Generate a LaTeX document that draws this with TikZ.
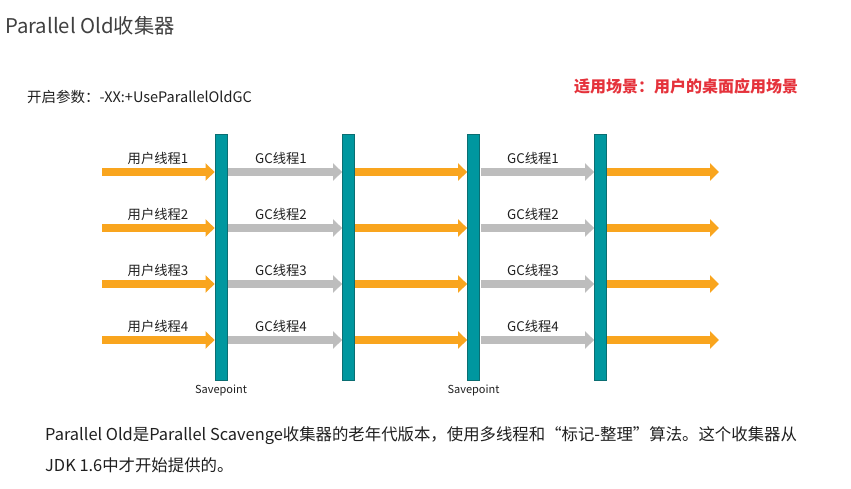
\documentclass[tikz,border=0pt]{standalone}
\usepackage{fontspec}
\setmainfont{Noto Sans CJK SC}
\usetikzlibrary{arrows.meta}
\definecolor{orangeA}{HTML}{F9A51E}
\definecolor{grayA}{HTML}{BDBDBD}
\definecolor{tealA}{HTML}{00979F}
\definecolor{tealD}{HTML}{0B6E72}
\definecolor{redA}{HTML}{E5323B}
\definecolor{titleg}{HTML}{404040}
\definecolor{txt}{HTML}{202020}
\begin{document}
\begin{tikzpicture}[x=1pt,y=-1pt,
  bar/.style={draw=tealD, line width=0.8pt, fill=tealA, minimum width=12pt, minimum height=246pt, inner sep=0pt},
  oarr/.style={draw=orangeA, line width=8pt, -{Triangle[length=9pt,width=17pt]}},
  garr/.style={draw=grayA, line width=8pt, -{Triangle[length=9pt,width=17pt]}},
  lbl/.style={font=\fontsize{13.3}{15}\selectfont, text=txt, inner sep=0pt},
  splbl/.style={font=\fontsize{11}{13}\selectfont, text=txt, inner sep=0pt}]
\useasboundingbox[fill=white] (0,0) rectangle (851,488);
\node[anchor=west, inner sep=0pt, font=\fontsize{20.3}{24}\selectfont, text=titleg] (title) at (5,26) {Parallel Old收集器};
\node[anchor=west, inner sep=0pt, font=\fontsize{14.5}{17}\selectfont, text=txt] (param) at (27,97) {开启参数：-XX:+UseParallelOldGC};
\node[anchor=west, inner sep=0pt, font=\bfseries\fontsize{16}{19}\selectfont, text=redA] (scene) at (574,86) {适用场景：用户的桌面应用场景};
\node[bar] (b1) at (221,257) {};
\node[bar] (b2) at (348.5,257) {};
\node[bar] (b3) at (473.5,257) {};
\node[bar] (b4) at (600.5,257) {};
\foreach \i/\y in {1/172,2/228,3/284,4/340}{
  \coordinate (s\i) at (102,\y);
  \coordinate (e\i) at (719,\y);
  \draw[oarr] (s\i) -- (b1.west |- s\i);
  \draw[garr] ([xshift=1pt]b1.east |- s\i) -- (b2.west |- s\i);
  \draw[oarr] (b2.east |- s\i) -- (b3.west |- s\i);
  \draw[garr] ([xshift=1pt]b3.east |- s\i) -- (b4.west |- s\i);
  \draw[oarr] (b4.east |- s\i) -- (e\i);
  \node[lbl] (u\i) at (158,\y-14) {用户线程\i};
  \node[lbl] (ga\i) at (281,\y-14) {GC线程\i};
  \node[lbl] (gb\i) at (533,\y-14) {GC线程\i};
}
\node[splbl] (sp1) at (221,390) {Savepoint};
\node[splbl] (sp2) at (473.5,390) {Savepoint};
\node[anchor=west, inner sep=0pt, font=\fontsize{16.4}{19}\selectfont, text=txt] (d1) at (45,436) {Parallel Old是Parallel Scavenge收集器的老年代版本，使用多线程和“标记-整理”算法。这个收集器从};
\node[anchor=west, inner sep=0pt, font=\fontsize{16.4}{19}\selectfont, text=txt] (d2) at (45,465) {JDK 1.6中才开始提供的。};
\end{tikzpicture}
\end{document}
